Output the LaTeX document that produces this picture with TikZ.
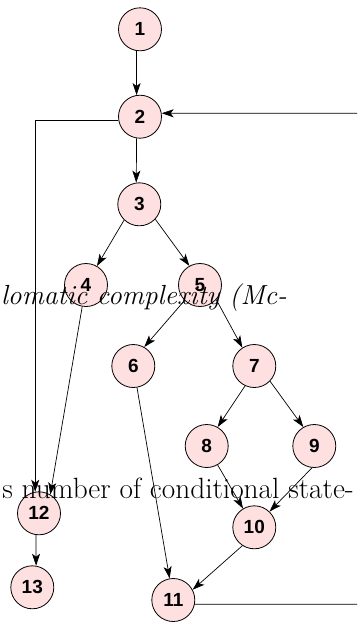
\documentclass[tikz,border=0pt]{standalone}
\usepackage{fontspec}
\newfontfamily\numfont{Liberation Sans}
\usetikzlibrary{arrows.meta}
\definecolor{nodefill}{RGB}{255,224,225}
\tikzset{
  vtx/.style={circle, draw=black, line width=0.8pt, fill=nodefill, minimum size=43pt, inner sep=0pt, font=\numfont\bfseries\fontsize{19}{21}\selectfont},
  edge/.style={line width=0.7pt, -{Stealth[length=12pt,width=8pt,inset=3pt]}},
  plain/.style={line width=0.7pt},
  pagetext/.style={anchor=base east, inner sep=0pt}
}
\begin{document}
\begin{tikzpicture}[x=1pt,y=-1pt]
\useasboundingbox (0,0) rectangle (357,622);
\node[vtx] (n1) at (140,29.3) {1};
\node[vtx] (n2) at (140,116.7) {2};
\node[vtx] (n3) at (139.3,204.3) {3};
\node[vtx] (n4) at (86,285) {4};
\node[vtx] (n5) at (200,285) {5};
\node[vtx] (n6) at (133.3,366) {6};
\node[vtx] (n7) at (254.3,366) {7};
\node[vtx] (n8) at (206.7,446) {8};
\node[vtx] (n9) at (314.3,446) {9};
\node[vtx] (n10) at (254.3,527.3) {10};
\node[vtx] (n11) at (173.3,600) {11};
\node[vtx] (n12) at (39,513.3) {12};
\node[vtx] (n13) at (32.3,587.3) {13};
\coordinate (rin) at (357,113.3);
\coordinate (rout) at (357,604.3);
\draw[edge] (n1.261) -- (n2.99);
\draw[edge] (n2.261) -- (n3.98);
\draw[edge] (n3.226) -- (n4.60);
\draw[edge] (n3.317) -- (n5.119);
\draw[edge] (n5.225) -- (n6.60);
\draw[edge] (n5.318) -- (n7.123);
\draw[edge] (n7.245) -- (n8.60);
\draw[edge] (n7.316) -- (n9.120);
\draw[edge] (n8.300) -- (n10.121);
\draw[edge] (n9.264) -- (n10.46);
\draw[edge] (n6) -- (n11);
\draw[edge] (n10.237) -- (n11.28);
\draw[edge] (n4.260) -- (n12.59);
\draw[edge] (n2.189) -| (n12.100);
\draw[edge] (n12.262) -- (n13.80);
\draw[edge] (rin) -- (n2.9);
\draw[plain] (n11.349) -- (rout);
\node[pagetext, font=\fontsize{27.6}{31}\selectfont\itshape] (t1) at (287,304) {lomatic complexity (Mc-};
\node[pagetext, font=\fontsize{29.3}{33}\selectfont] (t2) at (354,498.3) {s number of conditional state-};
\end{tikzpicture}
\end{document}
